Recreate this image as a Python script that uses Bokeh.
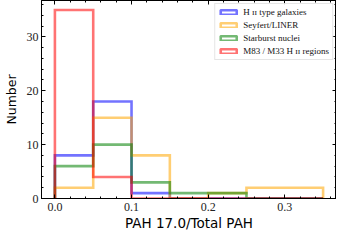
from bokeh.plotting import figure
from bokeh.models import (Range1d, LinearAxis, SingleIntervalTicker, PrintfTickFormatter,
                          Legend, LegendItem, CustomLabelingPolicy)
from bokeh.embed import file_html
from bokeh.resources import INLINE

bin_edges = [0.0, 0.05, 0.1, 0.15, 0.2, 0.25, 0.3, 0.35]
series_names = ["H \u026a\u026a type galaxies", "Seyfert/LINER", "Starburst nuclei",
                "M83 / M33 H \u026a\u026a regions"]
hii_counts = [8, 18, 1, 0, 0, 0, 0]
seyfert_counts = [2, 15, 8, 0, 1, 2, 2]
starburst_counts = [6, 10, 3, 1, 1, 0, 0]
m83_counts = [35, 4, 0, 0, 0, 0, 0]
colors = ["#0000ff", "#ffa500", "#008000", "#ff0000"]

p = figure(width=336, height=233, output_backend="svg", toolbar_location=None,
           x_range=Range1d(-0.0175, 0.3675), y_range=Range1d(0, 36.75),
           min_border_left=0, min_border_right=0, min_border_top=0, min_border_bottom=0,
           x_axis_label="PAH 17.0/Total PAH", y_axis_label="Number")
p.xgrid.visible = False
p.ygrid.visible = False
p.outline_line_color = "black"
p.outline_line_width = 1
p.background_fill_color = "white"
p.border_fill_color = "white"

def style_axis(ax, labels=True):
    ax.major_tick_in = 4
    ax.major_tick_out = 0
    ax.minor_tick_in = 2
    ax.minor_tick_out = 0
    ax.axis_line_color = "black"
    ax.major_tick_line_color = "black"
    ax.minor_tick_line_color = "black"
    if labels:
        ax.major_label_text_font = "Liberation Serif"
        ax.major_label_text_font_size = "12px"
        ax.major_label_text_color = "#222222"
        ax.axis_label_text_font = "DejaVu Sans"
        ax.axis_label_text_font_style = "normal"
        ax.axis_label_text_color = "black"
    else:
        ax.major_label_text_font_size = "0px"
        ax.major_label_policy = CustomLabelingPolicy(
            code="for (const i of indices) { indices.unset(i) } return indices")
        ax.major_label_standoff = 0
        ax.axis_label_standoff = 0

p.xaxis.ticker = SingleIntervalTicker(interval=0.1, num_minor_ticks=5)
p.yaxis.ticker = SingleIntervalTicker(interval=10, num_minor_ticks=5)
p.xaxis.formatter = PrintfTickFormatter(format="%.1f")
style_axis(p.xaxis[0])
style_axis(p.yaxis[0])
p.xaxis[0].major_label_standoff = 4
p.xaxis[0].axis_label_standoff = 1
p.xaxis[0].axis_label_text_font_size = "13.5px"
p.yaxis[0].major_label_standoff = 3
p.yaxis[0].axis_label_standoff = 5
p.yaxis[0].axis_label_text_font_size = "12.5px"

top = LinearAxis(ticker=SingleIntervalTicker(interval=0.1, num_minor_ticks=5))
right = LinearAxis(ticker=SingleIntervalTicker(interval=10, num_minor_ticks=5))
style_axis(top, labels=False)
style_axis(right, labels=False)
p.add_layout(top, "above")
p.add_layout(right, "right")

def steps(edges, counts):
    xs = [edges[0]]
    ys = [0]
    for i, c in enumerate(counts):
        xs += [edges[i], edges[i + 1]]
        ys += [c, c]
    xs.append(edges[-1])
    ys.append(0)
    return xs, ys

nan = float("nan")
items = []
for name, counts, col in zip(series_names,
                             [hii_counts, seyfert_counts, starburst_counts, m83_counts],
                             colors):
    xs, ys = steps(bin_edges, counts)
    p.line(xs, ys, line_color=col, line_alpha=0.55, line_width=2.6, line_join="miter")
    dummy = p.quad(left=[nan], right=[nan], top=[nan], bottom=[nan], fill_color="white",
                   line_color=col, line_alpha=0.55, line_width=2.6)
    items.append(LegendItem(label=name, renderers=[dummy]))

legend = Legend(items=items, location="top_right")
legend.label_text_font = "Liberation Serif"
legend.label_text_font_size = "9px"
legend.label_text_color = "#111111"
legend.glyph_width = 20
legend.glyph_height = 6
legend.label_height = 10
legend.spacing = 3
legend.padding = 3
legend.margin = 3
legend.label_standoff = 5
legend.border_line_color = "#cccccc"
legend.border_line_width = 1
legend.background_fill_alpha = 0.85
p.add_layout(legend)

open("out.html", "w").write(file_html(p, INLINE))
